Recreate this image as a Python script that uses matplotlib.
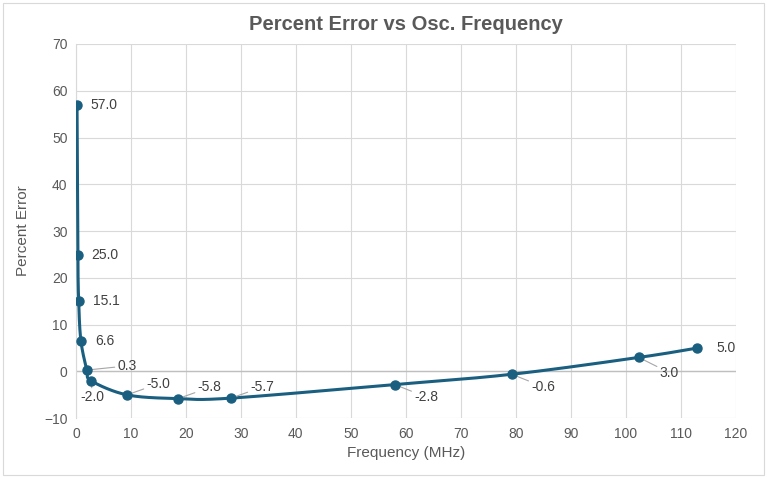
import numpy as np
import matplotlib.pyplot as plt

freq = [0.2, 0.35, 0.5, 0.9, 2.0, 2.8, 9.3, 18.6, 28.2, 58.0, 79.3, 102.4, 113.0]
err = [57.0, 25.0, 15.1, 6.6, 0.3, -2.0, -5.0, -5.8, -5.7, -2.8, -0.6, 3.0, 5.0]
# label offsets in points, and whether a leader line is drawn
offsets = [(10, 0), (10, 0), (10, 0), (10, 0), (22, 3), (-8, -12), (14, 8), (14, 8), (14, 8),
           (14, -9), (14, -9), (15, -11), (14, 0)]
leader = [False, False, False, False, True, True, True, True, True, True, True, True, False]

color = '#1a5f80'
plt.rcParams['font.family'] = ['Liberation Sans', 'DejaVu Sans']

def smooth(x, y, n=30):
    # Excel-style smoothed line: cubic bezier segments from Catmull-Rom tangents
    x = np.asarray(x, float); y = np.asarray(y, float)
    px, py = [], []
    for i in range(len(x) - 1):
        x0, y0 = (x[i-1], y[i-1]) if i > 0 else (x[i], y[i])
        x3, y3 = (x[i+2], y[i+2]) if i + 2 < len(x) else (x[i+1], y[i+1])
        c1 = (x[i] + (x[i+1] - x0) / 6, y[i] + (y[i+1] - y0) / 6)
        c2 = (x[i+1] - (x3 - x[i]) / 6, y[i+1] - (y3 - y[i]) / 6)
        t = np.linspace(0, 1, n)
        b = [(1-t)**3, 3*(1-t)**2*t, 3*(1-t)*t**2, t**3]
        px.extend(b[0]*x[i] + b[1]*c1[0] + b[2]*c2[0] + b[3]*x[i+1])
        py.extend(b[0]*y[i] + b[1]*c1[1] + b[2]*c2[1] + b[3]*y[i+1])
    return px, py

fig = plt.figure(figsize=(7.67, 4.78), dpi=100)
ax = fig.add_axes([0.099, 0.125, 0.86, 0.783])
fig.patches.append(plt.Rectangle((0.004, 0.006), 0.992, 0.988, transform=fig.transFigure,
                                 fill=False, edgecolor='#d9d9d9', lw=0.8))

sx, sy = smooth(freq, err)
ax.plot(sx, sy, color=color, lw=2.2, zorder=3)
ax.plot(freq, err, 'o', color=color, ms=6.5, zorder=4)

for xv, yv, off, ld in zip(freq, err, offsets, leader):
    ax.annotate(f'{yv:.1f}', (xv, yv), xytext=off, textcoords='offset points',
                fontsize=10, color='#404040', va='center', ha='left',
                arrowprops=dict(arrowstyle='-', color='#a6a6a6', lw=0.8,
                                shrinkA=0, shrinkB=3) if ld else None)

ax.set_xlim(0, 120)
ax.set_ylim(-10, 70)
ax.set_xticks(range(0, 121, 10))
ax.set_yticks(range(-10, 71, 10))
ax.grid(True, color='#d9d9d9', lw=0.8)
ax.axhline(0, color='#bfbfbf', lw=1, zorder=2)
for s in ax.spines.values():
    s.set_visible(False)
ax.spines['left'].set_visible(True)
ax.spines['left'].set_color('#d9d9d9')
ax.tick_params(length=0, labelsize=10, labelcolor='#595959', pad=6)
ax.set_xlabel('Frequency (MHz)', fontsize=11, color='#595959')
ax.set_ylabel('Percent Error', fontsize=11, color='#595959', labelpad=10)
ax.set_title('Percent Error vs Osc. Frequency', fontsize=14.5, fontweight='bold',
             color='#595959', pad=10)

fig.savefig('out.png')
